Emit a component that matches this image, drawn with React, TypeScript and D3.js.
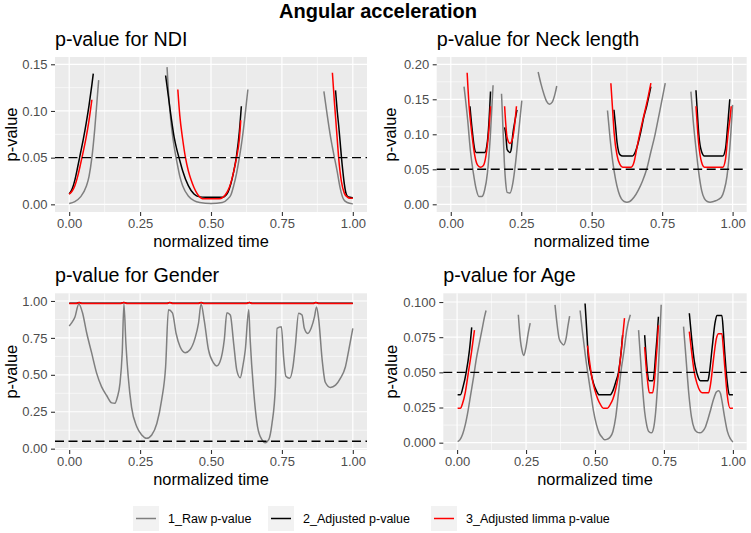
import React, { useEffect, useRef } from "react"
import * as d3 from "d3"

type Pt = [number, number]

// [normalized time, p-value]; every inner array is one unbroken stretch of a curve
const ndiRaw: Pt[][] = [
    [[0, 0.001], [0.02, 0.003], [0.04, 0.008], [0.06, 0.019], [0.07, 0.03], [0.08, 0.05], [0.09, 0.08], [0.1, 0.118], [0.104, 0.133]],
    [[0.345, 0.147], [0.35, 0.12], [0.36, 0.085], [0.37, 0.062], [0.38, 0.045], [0.39, 0.03], [0.4, 0.02], [0.42, 0.009], [0.44, 0.004], [0.46, 0.002], [0.5, 0.001], [0.54, 0.002], [0.56, 0.006], [0.57, 0.01], [0.58, 0.02], [0.59, 0.033], [0.6, 0.05], [0.61, 0.07], [0.62, 0.095], [0.63, 0.123]],
    [[0.898, 0.121], [0.91, 0.095], [0.92, 0.075], [0.93, 0.058], [0.945, 0.035], [0.955, 0.018], [0.968, 0.005], [0.98, 0.002], [1, 0.0005]],
]
const ndiAdj: Pt[][] = [
    [[0, 0.011], [0.01, 0.016], [0.02, 0.026], [0.03, 0.04], [0.04, 0.055], [0.05, 0.07], [0.06, 0.087], [0.07, 0.106], [0.08, 0.128], [0.085, 0.14]],
    [[0.34, 0.138], [0.35, 0.115], [0.36, 0.092], [0.37, 0.072], [0.38, 0.058], [0.39, 0.047], [0.4, 0.036], [0.42, 0.02], [0.44, 0.011], [0.46, 0.008], [0.48, 0.0075], [0.54, 0.0075], [0.55, 0.009], [0.56, 0.013], [0.57, 0.022], [0.58, 0.035], [0.59, 0.052], [0.6, 0.078], [0.607, 0.105]],
    [[0.939, 0.122], [0.945, 0.1], [0.95, 0.085], [0.955, 0.068], [0.96, 0.05], [0.965, 0.035], [0.97, 0.022], [0.975, 0.013], [0.98, 0.009], [0.99, 0.0075], [1, 0.0071]],
]
const ndiLimma: Pt[][] = [
    [[0, 0.011], [0.01, 0.014], [0.02, 0.02], [0.03, 0.03], [0.04, 0.043], [0.05, 0.057], [0.06, 0.072], [0.07, 0.09], [0.08, 0.112]],
    [[0.383, 0.123], [0.39, 0.095], [0.4, 0.07], [0.41, 0.05], [0.42, 0.036], [0.43, 0.026], [0.44, 0.018], [0.45, 0.012], [0.46, 0.008], [0.47, 0.006], [0.53, 0.006], [0.55, 0.01], [0.56, 0.015], [0.57, 0.023], [0.58, 0.035], [0.59, 0.05], [0.6, 0.07], [0.605, 0.09]],
    [[0.928, 0.141], [0.935, 0.11], [0.94, 0.09], [0.945, 0.07], [0.95, 0.05], [0.955, 0.035], [0.96, 0.024], [0.97, 0.012], [0.98, 0.008], [0.99, 0.0065], [1, 0.0064]],
]

const neckRaw: Pt[][] = [
    [[0.047, 0.168], [0.06, 0.12], [0.07, 0.075], [0.08, 0.045], [0.09, 0.022], [0.1, 0.011], [0.11, 0.011], [0.12, 0.02], [0.13, 0.045], [0.14, 0.095], [0.15, 0.17]],
    [[0.18, 0.158], [0.185, 0.11], [0.19, 0.06], [0.195, 0.03], [0.2, 0.017], [0.21, 0.016], [0.22, 0.03], [0.23, 0.06], [0.24, 0.1], [0.252, 0.148]],
    [[0.31, 0.189], [0.32, 0.172], [0.33, 0.158], [0.34, 0.147], [0.35, 0.143], [0.36, 0.146], [0.37, 0.158], [0.376, 0.169]],
    [[0.556, 0.134], [0.565, 0.095], [0.575, 0.06], [0.585, 0.035], [0.595, 0.018], [0.605, 0.008], [0.615, 0.004], [0.625, 0.003], [0.635, 0.004], [0.65, 0.01], [0.665, 0.02], [0.68, 0.033], [0.695, 0.05], [0.71, 0.075], [0.725, 0.1], [0.74, 0.13], [0.761, 0.173]],
    [[0.852, 0.161], [0.86, 0.12], [0.87, 0.08], [0.88, 0.045], [0.89, 0.02], [0.9, 0.008], [0.91, 0.004], [0.92, 0.003], [0.94, 0.005], [0.96, 0.01], [0.97, 0.02], [0.98, 0.04], [0.99, 0.08], [1, 0.142]],
]
const neckAdj: Pt[][] = [
    [[0.068, 0.14], [0.075, 0.11], [0.085, 0.078], [0.09, 0.074], [0.12, 0.074], [0.13, 0.09], [0.135, 0.115], [0.141, 0.161]],
    [[0.191, 0.11], [0.195, 0.1], [0.2, 0.078], [0.21, 0.074], [0.215, 0.08], [0.22, 0.1], [0.228, 0.12], [0.235, 0.135]],
    [[0.579, 0.135], [0.585, 0.11], [0.59, 0.088], [0.595, 0.076], [0.6, 0.071], [0.61, 0.069], [0.645, 0.069], [0.655, 0.075], [0.665, 0.088], [0.675, 0.105], [0.685, 0.125], [0.695, 0.14], [0.71, 0.168]],
    [[0.87, 0.163], [0.875, 0.13], [0.88, 0.1], [0.89, 0.075], [0.9, 0.069], [0.965, 0.069], [0.975, 0.08], [0.98, 0.1], [0.985, 0.125], [0.99, 0.15]],
]
const neckLimma: Pt[][] = [
    [[0.058, 0.188], [0.065, 0.14], [0.075, 0.1], [0.085, 0.07], [0.095, 0.056], [0.105, 0.053], [0.115, 0.055], [0.125, 0.07], [0.13, 0.085], [0.135, 0.105], [0.141, 0.14]],
    [[0.191, 0.14], [0.195, 0.115], [0.2, 0.095], [0.21, 0.087], [0.22, 0.095], [0.227, 0.115], [0.233, 0.14]],
    [[0.568, 0.173], [0.575, 0.13], [0.58, 0.1], [0.59, 0.07], [0.6, 0.057], [0.61, 0.053], [0.64, 0.053], [0.65, 0.06], [0.66, 0.08], [0.67, 0.1], [0.68, 0.118], [0.69, 0.135], [0.7, 0.153], [0.71, 0.173]],
    [[0.87, 0.14], [0.875, 0.11], [0.88, 0.085], [0.89, 0.06], [0.9, 0.053], [0.965, 0.053], [0.975, 0.065], [0.98, 0.085], [0.985, 0.105], [0.99, 0.12], [0.995, 0.14]],
]

const genderRaw: Pt[][] = [
    [[0, 0.83], [0.008, 0.85], [0.02, 0.89], [0.034, 0.98], [0.047, 0.92], [0.061, 0.79], [0.079, 0.65], [0.097, 0.51], [0.114, 0.42], [0.132, 0.36], [0.15, 0.31], [0.161, 0.307], [0.17, 0.35], [0.179, 0.44], [0.187, 0.65], [0.193, 0.98], [0.2, 0.71], [0.208, 0.49], [0.22, 0.28], [0.238, 0.15], [0.256, 0.093], [0.273, 0.07], [0.291, 0.093], [0.309, 0.17], [0.326, 0.33], [0.34, 0.555], [0.35, 0.94], [0.364, 0.92], [0.377, 0.78], [0.391, 0.69], [0.409, 0.65], [0.426, 0.67], [0.444, 0.75], [0.456, 0.85], [0.465, 0.98], [0.476, 0.87], [0.491, 0.67], [0.509, 0.58], [0.52, 0.56], [0.532, 0.59], [0.547, 0.74], [0.556, 0.92], [0.568, 0.905], [0.58, 0.71], [0.591, 0.53], [0.603, 0.48], [0.612, 0.555], [0.621, 0.67], [0.633, 0.94], [0.638, 0.74], [0.65, 0.4], [0.664, 0.15], [0.68, 0.059], [0.691, 0.04], [0.703, 0.059], [0.715, 0.17], [0.727, 0.42], [0.733, 0.815], [0.748, 0.826], [0.756, 0.62], [0.764, 0.49], [0.777, 0.476], [0.789, 0.555], [0.797, 0.69], [0.809, 0.917], [0.821, 0.905], [0.829, 0.815], [0.841, 0.78], [0.853, 0.815], [0.865, 0.894], [0.872, 0.96], [0.88, 0.87], [0.892, 0.6], [0.903, 0.45], [0.921, 0.415], [0.939, 0.43], [0.956, 0.476], [0.974, 0.555], [0.986, 0.67], [1, 0.815]],
]
const genderAdj: Pt[][] = [
    [[0, 0.984], [0.025, 0.984], [0.035, 0.99], [0.045, 0.984], [0.18, 0.984], [0.193, 0.99], [0.205, 0.984], [0.345, 0.984], [0.355, 0.99], [0.365, 0.984], [0.455, 0.984], [0.465, 0.99], [0.475, 0.984], [0.625, 0.984], [0.635, 0.99], [0.645, 0.984], [0.86, 0.984], [0.87, 0.99], [0.88, 0.984], [1, 0.984]],
]
const genderLimma: Pt[][] = [
    [[0, 0.983], [0.025, 0.983], [0.035, 0.99], [0.045, 0.983], [0.18, 0.983], [0.193, 0.99], [0.205, 0.983], [0.345, 0.983], [0.355, 0.99], [0.365, 0.983], [0.455, 0.983], [0.465, 0.99], [0.475, 0.983], [0.625, 0.983], [0.635, 0.99], [0.645, 0.983], [0.86, 0.983], [0.87, 0.99], [0.88, 0.983], [1, 0.983]],
]

const ageRaw: Pt[][] = [
    [[0.002, 0.0007], [0.01, 0.002], [0.02, 0.006], [0.03, 0.013], [0.04, 0.023], [0.05, 0.035], [0.06, 0.047], [0.07, 0.06], [0.08, 0.07], [0.09, 0.08], [0.1, 0.09], [0.105, 0.094]],
    [[0.222, 0.091], [0.23, 0.072], [0.235, 0.066], [0.242, 0.062], [0.25, 0.068], [0.258, 0.078], [0.265, 0.085]],
    [[0.355, 0.098], [0.362, 0.085], [0.37, 0.074], [0.378, 0.071], [0.386, 0.0695], [0.395, 0.074], [0.402, 0.083], [0.408, 0.09]],
    [[0.446, 0.094], [0.455, 0.078], [0.465, 0.062], [0.475, 0.048], [0.485, 0.035], [0.495, 0.022], [0.505, 0.013], [0.515, 0.007], [0.525, 0.004], [0.535, 0.002], [0.545, 0.0025], [0.555, 0.004], [0.565, 0.008], [0.575, 0.018], [0.585, 0.035], [0.595, 0.052], [0.605, 0.065], [0.615, 0.08], [0.628, 0.091]],
    [[0.658, 0.08], [0.665, 0.06], [0.672, 0.04], [0.68, 0.022], [0.688, 0.012], [0.695, 0.008], [0.705, 0.007], [0.712, 0.01], [0.72, 0.022], [0.728, 0.045], [0.735, 0.075], [0.74, 0.098]],
    [[0.821, 0.0825], [0.83, 0.06], [0.84, 0.035], [0.85, 0.018], [0.86, 0.01], [0.87, 0.0075], [0.88, 0.007], [0.89, 0.008], [0.9, 0.011], [0.91, 0.017], [0.92, 0.024], [0.93, 0.031], [0.94, 0.036], [0.948, 0.037], [0.955, 0.035], [0.96, 0.03], [0.97, 0.018], [0.98, 0.008], [0.99, 0.003], [1, 0.0005]],
]
const ageAdj: Pt[][] = [
    [[0.002, 0.034], [0.012, 0.034], [0.022, 0.04], [0.033, 0.05], [0.045, 0.066], [0.053, 0.082]],
    [[0.464, 0.099], [0.47, 0.08], [0.476, 0.06], [0.485, 0.05], [0.495, 0.042], [0.505, 0.037], [0.515, 0.034], [0.555, 0.034], [0.565, 0.037], [0.575, 0.043], [0.585, 0.05], [0.595, 0.065], [0.6, 0.0765]],
    [[0.68, 0.0765], [0.685, 0.062], [0.69, 0.05], [0.697, 0.044], [0.709, 0.044], [0.715, 0.05], [0.72, 0.063], [0.725, 0.075], [0.73, 0.0895]],
    [[0.842, 0.092], [0.85, 0.075], [0.86, 0.058], [0.87, 0.049], [0.882, 0.044], [0.909, 0.044], [0.915, 0.05], [0.925, 0.068], [0.935, 0.085], [0.942, 0.0905], [0.96, 0.0905], [0.965, 0.08], [0.97, 0.065], [0.975, 0.052], [0.98, 0.042], [0.987, 0.034], [1, 0.034]],
]
const ageLimma: Pt[][] = [
    [[0.002, 0.0245], [0.012, 0.0245], [0.02, 0.028], [0.03, 0.036], [0.041, 0.05], [0.052, 0.064], [0.063, 0.08]],
    [[0.473, 0.069], [0.48, 0.058], [0.49, 0.045], [0.5, 0.037], [0.51, 0.031], [0.52, 0.027], [0.53, 0.0245], [0.545, 0.0245], [0.555, 0.027], [0.565, 0.031], [0.575, 0.038], [0.585, 0.048], [0.595, 0.065], [0.607, 0.0885]],
    [[0.68, 0.068], [0.685, 0.055], [0.69, 0.045], [0.697, 0.0355], [0.709, 0.0355], [0.715, 0.043], [0.72, 0.055], [0.725, 0.068], [0.73, 0.0835]],
    [[0.842, 0.079], [0.85, 0.065], [0.86, 0.05], [0.87, 0.042], [0.88, 0.037], [0.888, 0.0355], [0.912, 0.0355], [0.92, 0.043], [0.93, 0.06], [0.94, 0.074], [0.948, 0.0775], [0.96, 0.0775], [0.965, 0.068], [0.97, 0.055], [0.975, 0.043], [0.98, 0.033], [0.99, 0.0245], [1, 0.0245]],
]

const timeTicks = [0, 0.25, 0.5, 0.75, 1]
const ndiTicks = [0, 0.05, 0.1, 0.15]
const neckTicks = [0, 0.05, 0.1, 0.15, 0.2]
const genderTicks = [0, 0.25, 0.5, 0.75, 1]
const ageTicks = [0, 0.025, 0.05, 0.075, 0.1]

const threshold = 0.05
const seriesNames = ["1_Raw p-value", "2_Adjusted p-value", "3_Adjusted limma p-value"]
const seriesColors = ["#7f7f7f", "#000000", "#ff0000"]

const FONT = "'Liberation Sans', Arial, Helvetica, sans-serif"

const panels = [
    { title: "p-value for NDI", series: [ndiRaw, ndiAdj, ndiLimma], yTicks: ndiTicks, yDomain: [-0.0082, 0.1578], fmt: ".2f", box: [55, 57, 367, 212], yTitleX: 11 },
    { title: "p-value for Neck length", series: [neckRaw, neckAdj, neckLimma], yTicks: neckTicks, yDomain: [-0.011, 0.2104], fmt: ".2f", box: [436.7, 57, 746.7, 212], yTitleX: 390 },
    { title: "p-value for Gender", series: [genderRaw, genderAdj, genderLimma], yTicks: genderTicks, yDomain: [-0.009, 1.052], fmt: ".2f", box: [55, 293.3, 367, 450], yTitleX: 11 },
    { title: "p-value for Age", series: [ageRaw, ageAdj, ageLimma], yTicks: ageTicks, yDomain: [-0.0052, 0.1062], fmt: ".3f", box: [443.3, 293.3, 746.7, 450], yTitleX: 391.5 },
]

// midpoints between major ticks -> minor grid
const between = (ticks: number[]) => ticks.slice(1).map((t, i) => (t + ticks[i]) / 2)

function drawPanel(svg: any, p: any) {
    const [x0, y0, x1, y1] = p.box
    const x = d3.scaleLinear().domain([-0.05, 1.05]).range([x0, x1])
    const y = d3.scaleLinear().domain(p.yDomain).range([y1, y0])
    const g = svg.append("g")

    g.append("rect")
        .attr("x", x0).attr("y", y0)
        .attr("width", x1 - x0).attr("height", y1 - y0)
        .attr("fill", "#ebebeb")

    // grid
    const vLines = (vals: number[], w: number) =>
        g.append("g").selectAll("line").data(vals).enter().append("line")
            .attr("x1", (d: number) => x(d)).attr("x2", (d: number) => x(d))
            .attr("y1", y0).attr("y2", y1)
            .attr("stroke", "#fff").attr("stroke-width", w)
    const hLines = (vals: number[], w: number) =>
        g.append("g").selectAll("line").data(vals).enter().append("line")
            .attr("x1", x0).attr("x2", x1)
            .attr("y1", (d: number) => y(d)).attr("y2", (d: number) => y(d))
            .attr("stroke", "#fff").attr("stroke-width", w)
    vLines(between(timeTicks), 0.6)
    hLines(between(p.yTicks), 0.6)
    vLines(timeTicks, 1.2)
    hLines(p.yTicks, 1.2)

    const line = d3.line<Pt>()
        .x(d => x(d[0]))
        .y(d => y(d[1]))
        .curve(d3.curveMonotoneX)

    p.series.forEach((segs: Pt[][], i: number) => {
        g.append("g").selectAll("path").data(segs).enter().append("path")
            .attr("d", (d: Pt[]) => line(d))
            .attr("fill", "none")
            .attr("stroke", seriesColors[i])
            .attr("stroke-width", 1.5)
            .attr("stroke-linejoin", "round")
    })

    g.append("line")
        .attr("x1", x0).attr("x2", x1)
        .attr("y1", y(threshold)).attr("y2", y(threshold))
        .attr("stroke", "#000").attr("stroke-width", 1.4)
        .attr("stroke-dasharray", "9 4.5")

    // axes
    const yAxis = g.append("g").attr("transform", `translate(${x0},0)`)
        .call(d3.axisLeft(y).tickValues(p.yTicks).tickFormat(d3.format(p.fmt)).tickSize(4).tickPadding(3.5))
    const xAxis = g.append("g").attr("transform", `translate(0,${y1})`)
        .call(d3.axisBottom(x).tickValues(timeTicks).tickFormat(d3.format(".2f")).tickSize(4).tickPadding(3))
    ;[yAxis, xAxis].forEach(ax => {
        ax.select(".domain").remove()
        ax.selectAll("line").attr("stroke", "#333").attr("stroke-width", 1.1)
        ax.selectAll("text").attr("fill", "#4d4d4d").style("font-size", "13px").style("font-family", FONT)
    })

    g.append("text")
        .attr("x", x0).attr("y", y0 - 11.5)
        .style("font-size", "19.7px").style("font-family", FONT)
        .attr("fill", "#000")
        .text(p.title)

    g.append("text")
        .attr("x", (x0 + x1) / 2).attr("y", y1 + 35)
        .attr("text-anchor", "middle")
        .style("font-size", "16.4px").style("font-family", FONT)
        .text("normalized time")

    g.append("text")
        .attr("transform", `translate(${p.yTitleX},${(y0 + y1) / 2}) rotate(-90)`)
        .attr("text-anchor", "middle")
        .attr("dy", "0.35em")
        .style("font-size", "16.4px").style("font-family", FONT)
        .text("p-value")
}

export default function App() {
    const ref = useRef<SVGSVGElement>(null)

    useEffect(() => {
        const svg = d3.select(ref.current)
        svg.selectAll("*").remove()

        svg.append("rect").attr("width", 751).attr("height", 533).attr("fill", "#fff")

        svg.append("text")
            .attr("x", 378).attr("y", 18)
            .attr("text-anchor", "middle")
            .style("font-size", "20px").style("font-weight", "bold").style("font-family", FONT)
            .text("Angular acceleration")

        panels.forEach(p => drawPanel(svg, p))

        // legend
        const keyX = [133, 268, 431]
        const legend = svg.append("g")
        seriesNames.forEach((name, i) => {
            legend.append("rect")
                .attr("x", keyX[i]).attr("y", 506)
                .attr("width", 26).attr("height", 25)
                .attr("fill", "#f2f2f2")
            legend.append("line")
                .attr("x1", keyX[i] + 3).attr("x2", keyX[i] + 23)
                .attr("y1", 518.5).attr("y2", 518.5)
                .attr("stroke", seriesColors[i]).attr("stroke-width", 1.5)
            legend.append("text")
                .attr("x", keyX[i] + 35).attr("y", 523)
                .style("font-size", "12.5px").style("font-family", FONT)
                .text(name)
        })
    }, [])

    return (
        <svg ref={ref} width={751} height={533}
            style={{ position: "absolute", left: 0, top: 0, display: "block" }} />
    )
}
